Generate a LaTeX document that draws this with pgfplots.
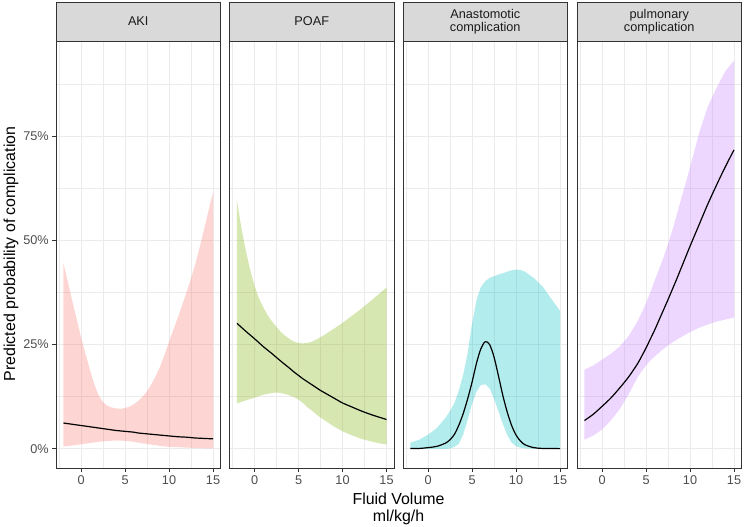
\documentclass[border=0pt]{standalone}
\usepackage{fontspec}
\setmainfont{Liberation Sans}
\usepackage{pgfplots}
\usepackage{pgfplotstable}
\pgfplotsset{compat=1.18}
\usepgfplotslibrary{fillbetween}
\definecolor{cAKI}{HTML}{F8766D}
\definecolor{cPOAF}{HTML}{7CAE00}
\definecolor{cANA}{HTML}{00BFC4}
\definecolor{cPUL}{HTML}{C77CFF}
\definecolor{grid92}{HTML}{EBEBEB}
\definecolor{g20}{HTML}{333333}
\definecolor{g30}{HTML}{4D4D4D}
\definecolor{g85}{HTML}{D9D9D9}
\definecolor{g10}{HTML}{1A1A1A}

\pgfplotstableread{
x lo fit hi
-2 0.006 0.062 0.445
-1.5 0.007 0.0605 0.400
-1 0.008 0.059 0.355
-0.5 0.0095 0.0575 0.311
0 0.011 0.056 0.267
0.5 0.0125 0.0545 0.228
1 0.014 0.053 0.190
1.5 0.0155 0.0515 0.155
2 0.017 0.050 0.128
2.5 0.018 0.0485 0.112
3 0.019 0.047 0.103
3.5 0.0195 0.0455 0.099
4 0.020 0.044 0.097
4.5 0.020 0.043 0.096
5 0.019 0.042 0.098
5.5 0.018 0.041 0.101
6 0.017 0.040 0.107
6.5 0.015 0.038 0.115
7 0.013 0.037 0.125
7.5 0.012 0.036 0.138
8 0.010 0.035 0.155
8.5 0.009 0.034 0.175
9 0.007 0.033 0.198
9.5 0.006 0.032 0.226
10 0.005 0.031 0.257
10.5 0.0045 0.030 0.286
11 0.004 0.029 0.315
11.5 0.0035 0.0285 0.345
12 0.003 0.028 0.376
12.5 0.0025 0.027 0.409
13 0.002 0.026 0.444
13.5 0.0018 0.0255 0.485
14 0.0015 0.025 0.528
14.5 0.0012 0.0245 0.572
15 0.001 0.024 0.615
}\akidata

\pgfplotstableread{
x lo fit hi
-2 0.109 0.301 0.595
-1.5 0.1125 0.2915 0.530
-1 0.116 0.282 0.476
-0.5 0.1195 0.273 0.429
0 0.123 0.264 0.390
0.5 0.1265 0.2545 0.361
1 0.130 0.245 0.339
1.5 0.132 0.2365 0.320
2 0.134 0.228 0.305
2.5 0.135 0.219 0.292
3 0.134 0.210 0.280
3.5 0.1315 0.2015 0.271
4 0.128 0.193 0.263
4.5 0.124 0.184 0.257
5 0.118 0.176 0.254
5.5 0.110 0.168 0.253
6 0.100 0.161 0.254
6.5 0.092 0.154 0.257
7 0.083 0.147 0.262
7.5 0.075 0.140 0.268
8 0.068 0.134 0.274
8.5 0.061 0.128 0.281
9 0.054 0.122 0.288
9.5 0.048 0.116 0.295
10 0.042 0.110 0.302
11 0.033 0.101 0.318
12 0.025 0.092 0.334
13 0.019 0.084 0.351
14 0.014 0.077 0.369
15 0.0104 0.0705 0.387
}\poafdata

\pgfplotstableread{
x lo fit hi
-2 0.000 0.001 0.015
-1 0.000 0.001 0.022
0 0.000 0.003 0.034
1 0.000 0.006 0.050
2 0.000 0.014 0.075
2.5 0.001 0.022 0.091
3 0.005 0.035 0.110
3.5 0.012 0.057 0.140
4 0.035 0.085 0.178
4.5 0.070 0.120 0.230
5 0.108 0.160 0.300
5.5 0.137 0.205 0.356
6 0.153 0.240 0.388
6.5 0.155 0.257 0.402
7 0.145 0.250 0.410
7.5 0.120 0.220 0.414
8 0.090 0.175 0.418
8.5 0.060 0.128 0.421
9 0.033 0.088 0.425
9.5 0.015 0.056 0.428
10 0.006 0.033 0.430
10.5 0.003 0.019 0.429
11 0.001 0.010 0.425
12 0.000 0.003 0.410
13 0.000 0.001 0.390
14 0.000 0.001 0.360
15 0.000 0.0005 0.331
}\anadata

\pgfplotstableread{
x lo fit hi
-2 0.022 0.068 0.190
-1 0.032 0.083 0.200
0 0.046 0.102 0.214
1 0.068 0.122 0.228
2 0.095 0.146 0.245
3 0.130 0.172 0.270
4 0.170 0.203 0.305
4.5 0.186 0.222 0.326
5 0.200 0.242 0.350
5.5 0.212 0.264 0.376
6 0.222 0.286 0.405
6.5 0.231 0.310 0.432
7 0.240 0.334 0.460
7.5 0.248 0.358 0.492
8 0.255 0.383 0.525
8.5 0.262 0.408 0.562
9 0.268 0.434 0.600
9.5 0.274 0.460 0.637
10 0.280 0.486 0.675
11 0.290 0.536 0.755
12 0.298 0.586 0.820
13 0.305 0.632 0.865
14 0.310 0.676 0.905
15 0.315 0.717 0.931
}\puldata

\pgfplotsset{panel/.style={
  scale only axis, width=164.5pt, height=427.3pt,
  anchor=south west,
  xmin=-2.85, xmax=15.85, ymin=-0.0466, ymax=0.978,
  xtick={0,5,10,15}, xticklabels={0,5,10,15},
  minor xtick={-2.5,2.5,7.5,12.5},
  ytick={0,0.25,0.5,0.75}, minor ytick={0.125,0.375,0.625,0.875},
  grid=both,
  major grid style={draw=grid92, line width=1pt},
  minor grid style={draw=grid92, line width=0.5pt},
  axis line style={draw=g20, line width=0.8pt},
  major tick style={draw=g20, line width=0.8pt},
  tick align=outside, major tick length=3.7pt, minor tick length=0pt,
  xtick pos=left, ytick pos=left,
  tick label style={font=\fontsize{12.7}{12.7}\selectfont, text=g30},
  xticklabel style={yshift=-0.5pt},
  yticklabels={},
}}

\begin{document}
\begin{tikzpicture}

% Panel 1: AKI
\begin{axis}[panel, at={(56pt,58.7pt)}, yticklabels={0\%,25\%,50\%,75\%}]
\addplot[name path=up, draw=none, forget plot] table[x=x,y=hi] {\akidata};
\addplot[name path=dn, draw=none, forget plot] table[x=x,y=lo] {\akidata};
\addplot[fill=cAKI, fill opacity=0.3, draw=none] fill between[of=up and dn];
\addplot[black, line width=1.2pt, smooth] table[x=x,y=fit] {\akidata};
\end{axis}

% Panel 2: POAF
\begin{axis}[panel, at={(229.5pt,58.7pt)}, ytick style={draw=none}]
\addplot[name path=up, draw=none, forget plot] table[x=x,y=hi] {\poafdata};
\addplot[name path=dn, draw=none, forget plot] table[x=x,y=lo] {\poafdata};
\addplot[fill=cPOAF, fill opacity=0.3, draw=none] fill between[of=up and dn];
\addplot[black, line width=1.2pt, smooth] table[x=x,y=fit] {\poafdata};
\end{axis}

% Panel 3: Anastomotic
\begin{axis}[panel, at={(403pt,58.7pt)}, ytick style={draw=none}]
\addplot[name path=up, draw=none, forget plot] table[x=x,y=hi] {\anadata};
\addplot[name path=dn, draw=none, forget plot] table[x=x,y=lo] {\anadata};
\addplot[fill=cANA, fill opacity=0.3, draw=none] fill between[of=up and dn];
\addplot[black, line width=1.2pt, smooth] table[x=x,y=fit] {\anadata};
\end{axis}

% Panel 4: pulmonary
\begin{axis}[panel, at={(577pt,58.7pt)}, ytick style={draw=none}]
\addplot[name path=up, draw=none, forget plot] table[x=x,y=hi] {\puldata};
\addplot[name path=dn, draw=none, forget plot] table[x=x,y=lo] {\puldata};
\addplot[fill=cPUL, fill opacity=0.3, draw=none] fill between[of=up and dn];
\addplot[black, line width=1.2pt, smooth] table[x=x,y=fit] {\puldata};
\end{axis}

% strips
\foreach \L/\T in {56/{AKI},229.5/{POAF},403/{Anastomotic\\complication},577/{pulmonary\\complication}}{
  \draw[fill=g85, draw=g20, line width=0.8pt] (\L pt,486pt) rectangle ++(164.5pt,39pt);
  \node[align=center, text=g10, font=\fontsize{12.7}{13}\selectfont, inner sep=0pt] at (\L pt+82.25pt,505.5pt) {\T};
}

% axis titles
\node[rotate=90, font=\fontsize{15.9}{16}\selectfont, inner sep=0pt] at (11pt,273pt) {Predicted probability of complication};
\node[anchor=base, font=\fontsize{15.9}{16}\selectfont, inner sep=0pt] at (398.5pt,22pt) {Fluid Volume};
\node[anchor=base, font=\fontsize{15.9}{16}\selectfont, inner sep=0pt] at (398.5pt,5.5pt) {ml/kg/h};

\pgfresetboundingbox
\path (0pt,0pt) rectangle (744pt,527pt);
\end{tikzpicture}
\end{document}
